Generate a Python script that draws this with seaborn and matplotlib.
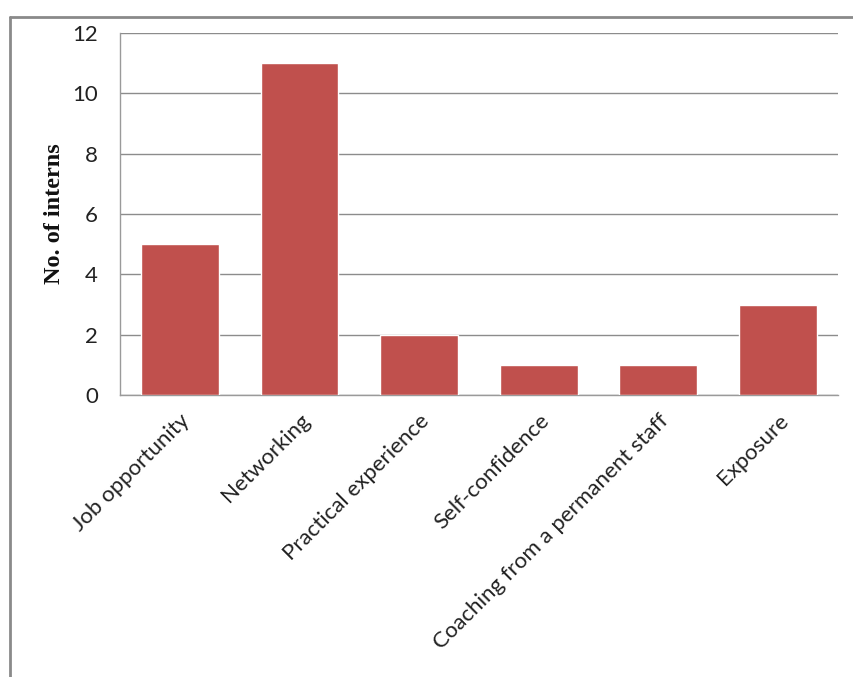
import matplotlib
matplotlib.use("Agg")
import matplotlib.pyplot as plt
import seaborn as sns
import pandas as pd
from matplotlib.lines import Line2D

categories = ["Job opportunity", "Networking", "Practical experience",
              "Self-confidence", "Coaching from a permanent staff", "Exposure"]
values = [5, 11, 2, 1, 1, 3]
yticks = [0, 2, 4, 6, 8, 10, 12]

df = pd.DataFrame({"cat": categories, "val": values})

sns.set_theme(style="white")
plt.rcParams['font.family'] = ['Lato', 'DejaVu Sans']

fig = plt.figure(figsize=(8.54, 6.77), dpi=100)
ax = fig.add_axes([0.1405, 0.4165, 0.8405, 0.5345])

sns.barplot(data=df, x="cat", y="val", color="#C0504D", saturation=1,
            width=0.65, ax=ax, zorder=3)

ax.set_ylim(0, 12)
ax.set_yticks(yticks)
ax.set_yticklabels([str(t) for t in yticks], fontsize=16, color="#222222")
ax.yaxis.grid(True, color="#8c8c8c", linewidth=1, zorder=0)
ax.set_axisbelow(True)
ax.tick_params(axis="y", length=0, pad=16)
ax.tick_params(axis="x", length=0, pad=11)
ax.set_xlim(-0.5, 5.5)

ax.set_xticks(range(len(categories)))
ax.set_xticklabels(categories, rotation=45, ha="right", va="top",
                   rotation_mode="anchor", fontsize=16, color="#222222")
ax.set_xlabel("")
ax.set_ylabel("No. of interns", fontsize=17.5, fontweight="bold", color="#111111",
              family=["Liberation Serif", "DejaVu Serif"], labelpad=5)

for side in ["top", "right"]:
    ax.spines[side].set_visible(False)
for side in ["left", "bottom"]:
    ax.spines[side].set_color("#9a9a9a")
    ax.spines[side].set_linewidth(1)

# figure frame (left and top)
fig.add_artist(Line2D([10/854, 10/854], [0, 1 - 17/677], transform=fig.transFigure,
                      color="#8a8a8a", linewidth=2))
fig.add_artist(Line2D([10/854, 1], [1 - 17/677, 1 - 17/677], transform=fig.transFigure,
                      color="#8a8a8a", linewidth=2))

fig.savefig("out.png", dpi=100, facecolor="white")
